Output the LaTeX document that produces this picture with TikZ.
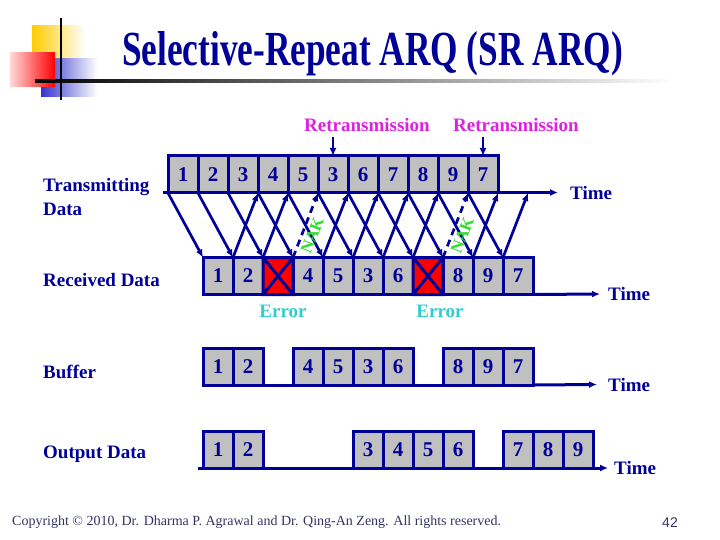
\documentclass[tikz,border=0pt]{standalone}
\usepackage{fontspec}
\setmainfont{Liberation Serif}
\newfontfamily\titlefont[FakeStretch=0.72]{Liberation Serif}
\newfontfamily\pagefont{Liberation Sans}
\usepackage{tikz}
\usetikzlibrary{arrows.meta,positioning,calc}
\definecolor{srnavy}{RGB}{0,0,153}
\definecolor{boxgray}{RGB}{192,192,192}
\definecolor{errred}{RGB}{255,0,0}
\definecolor{errcyan}{RGB}{51,204,204}
\definecolor{retxmagenta}{RGB}{221,34,221}
\definecolor{nakgreen}{RGB}{51,221,51}
\definecolor{logoyellow}{RGB}{255,204,0}
\definecolor{logoblue}{RGB}{51,51,204}
\definecolor{footgray}{RGB}{51,51,102}

\begin{document}
\begin{tikzpicture}[
  x=1pt, y=-1pt,
  pkt/.style={draw=srnavy, fill=boxgray, line width=3pt, minimum width=30pt, minimum height=37pt, inner sep=0pt, outer sep=0pt, text=srnavy, font=\fontsize{21}{24}\selectfont\bfseries},
  rowlabel/.style={anchor=west, align=left, inner sep=0pt, text=srnavy, font=\fontsize{19}{24}\selectfont\bfseries},
  timelabel/.style={inner sep=0pt, text=srnavy, font=\fontsize{19}{24}\selectfont\bfseries},
  gapline/.style={line width=3pt, draw=srnavy},
  timeaxis/.style={gapline, -{Latex[length=8pt,width=7pt]}},
  sendarrow/.style={-{Latex[length=8pt,width=7pt]}, line width=2.7pt, draw=srnavy},
  ackarrow/.style={sendarrow},
  nakarrow/.style={sendarrow, dash pattern=on 7pt off 5pt},
  errlabel/.style={text=errcyan, inner sep=1pt, font=\fontsize{19}{24}\selectfont\bfseries},
  retxlabel/.style={text=retxmagenta, inner sep=1pt, font=\fontsize{19}{24}\selectfont\bfseries},
  naklabel/.style={text=nakgreen, sloped, inner sep=0pt, font=\fontsize{17}{18}\selectfont\bfseries}
]
\useasboundingbox (0,0) rectangle (720,540);

% slide logo and rule
\shade[left color=logoyellow, middle color=logoyellow, right color=white] (32,26) rectangle (85,60);
\shade[left color=logoblue, middle color=logoblue, right color=white] (41,59) rectangle (97,97);
\shade[left color=red!15, right color=red] (10,53) rectangle (55,87);
\shade[left color=black, middle color=black!40, right color=white] (35,79.5) rectangle (673,82.5);
\draw[line width=1.6pt] (61,18) -- (61,100);

\node[anchor=base, text=srnavy, font=\titlefont\fontsize{49}{55}\selectfont\bfseries] (title) at (372.5,66) {Selective-Repeat ARQ (SR ARQ)};

% row labels
\node[rowlabel] (lbltx) at (43,197) {Transmitting\\Data};
\node[rowlabel] (lblrx) at (43,280) {Received Data};
\node[rowlabel] (lblbuf) at (43,372) {Buffer};
\node[rowlabel] (lblout) at (43,454) {Output Data};

% time axes
\coordinate (tstart) at (163,192.5);
\coordinate (tend) at (558,192.5);
\draw[timeaxis] (tstart) -- (tend);
\node[timelabel, right=12pt of tend] (timetx) {Time};
\coordinate (outstart) at (198,468);
\coordinate (outend) at (608,468);
\draw[timeaxis] (outstart) -- (outend);
\node[timelabel, right=6pt of outend] (timeout) {Time};

% sent frames
\foreach \n [count=\i] in {1,2,3,4,5,3,6,7,8,9,7}
  \node[pkt] (t\i) at (153+30*\i,174.5) {\n};
\coordinate (t12) at ($(t11.south east)+(30,0)$);

% received frames
\foreach \n [count=\i] in {1,2,{},4,5,3,6,{},8,9,7}
  \node[pkt] (r\i) at (188+30*\i,276) {\n};
\foreach \i in {3,8}
  \draw[gapline, fill=errred] (r\i.north west) rectangle (r\i.south east)
    (r\i.north west) -- (r\i.south east) (r\i.north east) -- (r\i.south west);
\coordinate (rxend) at (600,294);
\draw[timeaxis] (r11.south east) -- (rxend);
\node[timelabel, right=8pt of rxend] (timerx) {Time};
\node[errlabel, below=9pt of r3, xshift=5pt] (err1) {Error};
\node[errlabel, below=9pt of r8, xshift=12pt] (err2) {Error};

% buffer
\foreach \n/\p in {1/1,2/2,4/4,5/5,3/6,6/7,8/9,9/10,7/11}
  \node[pkt] (b\p) at (188+30*\p,366.5) {\n};
\coordinate (bufend) at (597,384.5);
\draw[gapline] (b2.south east) -- (b4.south west) (b7.south east) -- (b9.south west);
\draw[timeaxis] (b11.south east) -- (bufend);
\node[timelabel, right=11pt of bufend] (timebuf) {Time};

% output
\foreach \n/\p in {1/1,2/2,3/6,4/7,5/8,6/9,7/11,8/12,9/13}
  \node[pkt] (o\p) at (188+30*\p,449.5) {\n};

% frames, ACKs and NAKs
\foreach \i in {1,...,11}
  \draw[sendarrow] (t\i.south west) -- (r\i.north west);
\foreach \i/\j in {1/3,2/4,4/6,5/7,6/8,7/9,9/11}
  \draw[ackarrow] (r\i.north east) -- (t\j.south east);
\draw[ackarrow] (r10.north east) -- (t12);
\foreach \i/\j in {3/5,8/10}
  \draw[nakarrow] (r\i.north east) -- node[naklabel, pos=0.4, below=3pt] (nak\i) {NAK} (t\j.south east);

% retransmissions
\node[retxlabel] (retx1) at (367,125) {Retransmission};
\node[retxlabel] (retx2) at (516,125) {Retransmission};
\coordinate (rxa1) at (333,137);
\coordinate (rxa2) at (483,137);
\draw[sendarrow] (rxa1) -- (t6.north);
\draw[sendarrow] (rxa2) -- (t11.north);

% footer
\node[anchor=west, text=footgray, inner sep=0pt, font=\fontsize{14}{16}\selectfont] (copy) at (12,522) {Copyright © 2010, Dr. Dharma P. Agrawal and Dr. Qing-An Zeng. All rights reserved.};
\node[text=footgray, font=\pagefont\fontsize{14}{16}\selectfont] (pagenum) at (670,523) {42};
\end{tikzpicture}
\end{document}
